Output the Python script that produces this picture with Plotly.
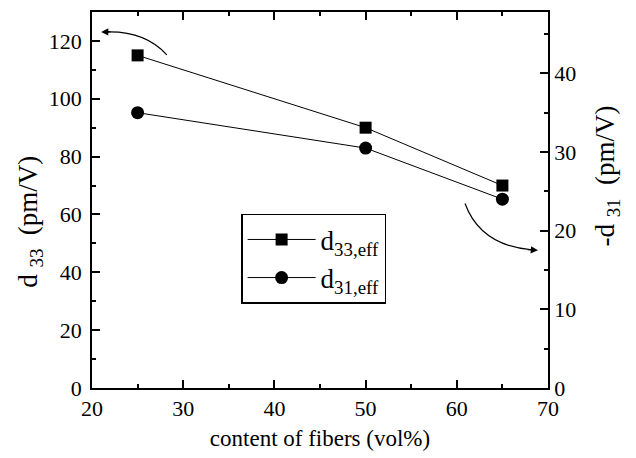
import plotly.graph_objects as go

fiber_content = [25, 50, 65]
d33_eff = [115, 90, 70]
d31_eff = [35, 30.5, 24]

FONT = "Liberation Serif"

fig = go.Figure()
fig.add_trace(go.Scatter(
    x=fiber_content, y=d33_eff, mode="lines+markers",
    name="d<sub>33,eff</sub>",
    line=dict(color="black", width=1),
    marker=dict(symbol="square", size=12, color="black"),
))
fig.add_trace(go.Scatter(
    x=fiber_content, y=d31_eff, mode="lines+markers",
    name="d<sub>31,eff</sub>", yaxis="y2",
    line=dict(color="black", width=1),
    marker=dict(symbol="circle", size=13, color="black"),
))

axis_common = dict(showline=True, linecolor="black", linewidth=1.5,
                   ticks="inside", ticklen=8, tickcolor="black", tickwidth=1.5,
                   showgrid=False, zeroline=False,
                   tickfont=dict(family=FONT, size=22, color="black"))

fig.update_layout(
    width=636, height=458,
    margin=dict(l=92, r=88, t=10, b=70),
    paper_bgcolor="white", plot_bgcolor="white",
    font=dict(family=FONT, color="black"),
    xaxis=dict(range=[20, 70], dtick=10, mirror="ticks",
               minor=dict(ticks="inside", dtick=5, ticklen=4, tickcolor="black", tickwidth=1.5),
               title=dict(text="content of fibers (vol%)", font=dict(family=FONT, size=23, color="black"), standoff=10),
               **axis_common),
    yaxis=dict(range=[0, 130], dtick=20, ticklabelstandoff=4,
               minor=dict(ticks="inside", dtick=10, ticklen=4, tickcolor="black", tickwidth=1.5),
               **axis_common),
    yaxis2=dict(range=[0, 47.8], dtick=10, overlaying="y", side="right", anchor="x",
                minor=dict(ticks="inside", dtick=5, ticklen=4, tickcolor="black", tickwidth=1.5),
                **axis_common),
    legend=dict(x=0.327, y=0.463, xanchor="left", yanchor="top",
                bordercolor="black", borderwidth=1.5, bgcolor="white",
                font=dict(family=FONT, size=27, color="black"), tracegroupgap=0,
                itemwidth=68),
    showlegend=True,
)

# axis titles (placed as rotated annotations to match the original placement)
fig.add_annotation(text="d <sub>33</sub>  (pm/V)", xref="paper", yref="paper",
                   x=-0.136, y=0.442, textangle=-90, showarrow=False,
                   xanchor="center", yanchor="middle",
                   font=dict(family=FONT, size=27, color="black"))
fig.add_annotation(text="-d <sub>31</sub>  (pm/V)", xref="paper", yref="paper",
                   x=1.13, y=0.563, textangle=-90, showarrow=False,
                   xanchor="center", yanchor="middle",
                   font=dict(family=FONT, size=27, color="black"))

# curved arrows indicating which axis each series refers to
fig.add_shape(type="path", xref="x", yref="y",
              path="M 28.2 115.2 Q 25.8 123.5 21.6 123.1",
              line=dict(color="black", width=1.2))
fig.add_annotation(x=21.0, y=123.1, ax=22.2, ay=123.1, xref="x", yref="y",
                   axref="x", ayref="y", text="", showarrow=True,
                   arrowhead=2, arrowsize=1.2, arrowwidth=1.2, arrowcolor="black")
fig.add_shape(type="path", xref="x", yref="y",
              path="M 60.9 63.8 Q 62.6 49.3 68.2 47.8",
              line=dict(color="black", width=1.2))
fig.add_annotation(x=68.9, y=47.6, ax=67.6, ay=47.9, xref="x", yref="y",
                   axref="x", ayref="y", text="", showarrow=True,
                   arrowhead=2, arrowsize=1.2, arrowwidth=1.2, arrowcolor="black")

fig.write_html("out.html")
